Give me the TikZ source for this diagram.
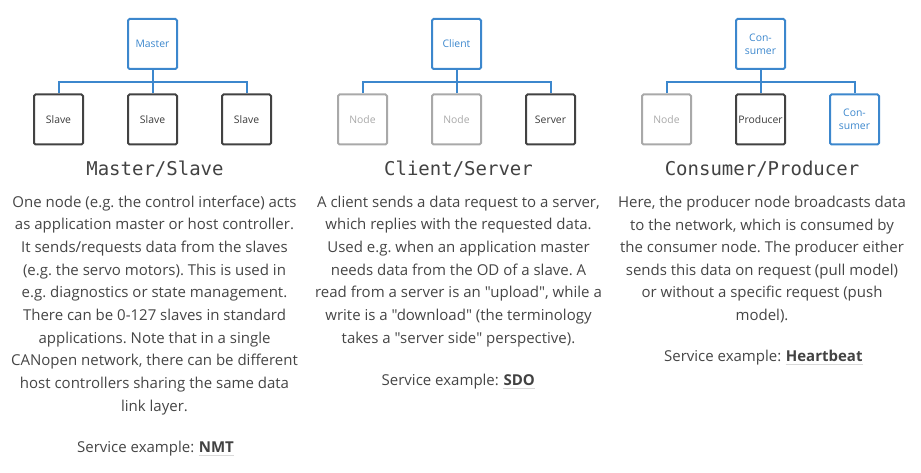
\documentclass[tikz,border=0pt]{standalone}
\usepackage{fontspec}
\setmainfont{Open Sans}[Ligatures=TeXOff]
\newfontfamily\headfont{DejaVu Sans Mono}
\usetikzlibrary{positioning}
\frenchspacing

\definecolor{busblue}{HTML}{3C87CD}
\definecolor{darkline}{HTML}{424242}
\definecolor{lightline}{HTML}{A9A9A9}
\definecolor{bodytext}{HTML}{454545}
\definecolor{ulgrey}{HTML}{D9D9D9}

\tikzset{
  unit/.style={draw, line width=2pt, rounded corners=1.5pt, minimum width=49pt,
    minimum height=50pt, inner sep=0pt, align=center,
    font=\fontsize{10.4}{12.6}\selectfont},
  bluebox/.style={unit, draw=busblue, text=busblue},
  darkbox/.style={unit, draw=darkline, text=darkline!90!black},
  greybox/.style={unit, draw=lightline, text=lightline},
  bus/.style={draw=busblue, line width=2pt},
  heading/.style={font=\headfont\fontsize{19}{22}\selectfont, text=darkline, anchor=base},
  para/.style={align=center, text=bodytext, font=\fontsize{15}{22.65}\selectfont,
    anchor=base, inner sep=0pt},
  svc/.style={text=bodytext, font=\fontsize{15}{18}\selectfont, inner sep=0pt},
  svcword/.style={svc, font=\fontsize{15}{18}\selectfont\bfseries, text=darkline},
  underl/.style={draw=ulgrey, line width=1pt},
}

\begin{document}
\begin{tikzpicture}[x=1pt,y=-1pt]
  \useasboundingbox (0,0) rectangle (921,473);

  % master / slave
  \node[bluebox] (master) at (152.5,44) {Master};
  \node[darkbox] (slave1) at (58.5,119.5) {Slave};
  \node[darkbox] (slave2) at (152.5,119.5) {Slave};
  \node[darkbox] (slave3) at (246.5,119.5) {Slave};
  \coordinate (j1) at (152.5,81.7);
  \draw[bus] (master) -- (j1);
  \draw[bus] (slave1) |- (j1) -| (slave3);
  \draw[bus] (slave2) -- (j1);
  \node[heading] (t1) at (155,176) {Master/Slave};
  % base = last line
  \node[para] (p1) at (154.5,411) {One node (e.g. the control interface) acts\\
    as application master or host controller.\\
    It sends/requests data from the slaves\\
    (e.g. the servo motors). This is used in\\
    e.g. diagnostics or state management.\\
    There can be 0-127 slaves in standard\\
    applications. Note that in a single\\
    CANopen network, there can be different\\
    host controllers sharing the same data\\
    link layer.};
  \node[svcword, anchor=base west] (nmt) at (198.7,452) {NMT};
  \node[svc, base left=4.2pt of nmt] (sv1) {Service example:};
  \draw[underl] ([yshift=-3.5pt]nmt.base west) -- ([yshift=-3.5pt]nmt.base east);

  % client / server
  \node[bluebox] (client) at (456.5,44) {Client};
  \node[greybox] (node1) at (362.5,119.5) {Node};
  \node[greybox] (node2) at (456.5,119.5) {Node};
  \node[darkbox] (server) at (550.5,119.5) {Server};
  \coordinate (j2) at (456.5,81.7);
  \draw[bus] (client) -- (j2);
  \draw[bus] (node1) |- (j2) -| (server);
  \draw[bus] (node2) -- (j2);
  \node[heading] (t2) at (458.5,176) {Client/Server};
  \node[para] (p2) at (458.5,343.2) {A client sends a data request to a server,\\
    which replies with the requested data.\\
    Used e.g. when an application master\\
    needs data from the OD of a slave. A\\
    read from a server is an "upload", while a\\
    write is a "download" (the terminology\\
    takes a "server side" perspective).};
  \node[svcword, anchor=base west] (sdo) at (503.3,385) {SDO};
  \node[svc, base left=4.2pt of sdo] (sv2) {Service example:};
  \draw[underl] ([yshift=-3.5pt]sdo.base west) -- ([yshift=-3.5pt]sdo.base east);

  % consumer / producer
  \node[bluebox] (cons) at (760.5,44) {Con-\\sumer};
  \node[greybox] (node3) at (666.5,119.5) {Node};
  \node[darkbox] (prod) at (760.5,119.5) {Producer};
  \node[bluebox] (cons2) at (854.5,119.5) {Con-\\sumer};
  \coordinate (j3) at (760.5,81.7);
  \draw[bus] (cons) -- (j3);
  \draw[bus] (node3) |- (j3) -| (cons2);
  \draw[bus] (prod) -- (j3);
  \node[heading] (t3) at (762,176) {Consumer/Producer};
  \node[para] (p3) at (762,320.6) {Here, the producer node broadcasts data\\
    to the network, which is consumed by\\
    the consumer node. The producer either\\
    sends this data on request (pull model)\\
    or without a specific request (push\\
    model).};
  \node[svcword, anchor=base west] (hb) at (785.7,361) {Heartbeat};
  \node[svc, base left=4.2pt of hb] (sv3) {Service example:};
  \draw[underl] ([yshift=-3.5pt]hb.base west) -- ([yshift=-3.5pt]hb.base east);
\end{tikzpicture}
\end{document}
